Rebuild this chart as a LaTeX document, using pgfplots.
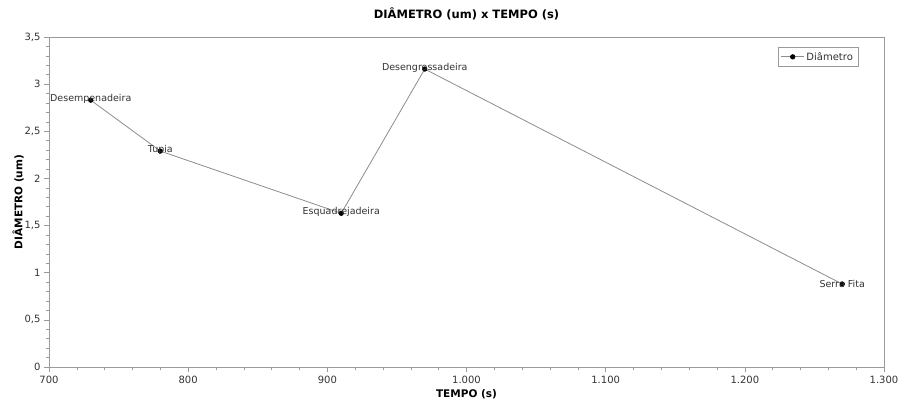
\documentclass[border=0pt]{standalone}
\usepackage{fontspec}
\setmainfont{DejaVu Sans}
\usepackage{pgfplots}
\pgfplotsset{compat=1.18}
\definecolor{framec}{HTML}{9A9A9A}
\definecolor{linec}{HTML}{8C8C8C}
\definecolor{txt}{HTML}{333333}
\begin{document}
\begin{tikzpicture}
\begin{axis}[
  scale only axis,
  width=835pt, height=330pt,
  xmin=700, xmax=1300, ymin=0, ymax=3.5,
  xtick={700,800,...,1300},
  ytick={0,0.5,...,3.5},
  minor x tick num=4, minor y tick num=4,
  axis line style={framec, line width=0.9pt},
  tick style={framec, line width=0.6pt},
  tick align=outside,
  xtick pos=bottom, ytick pos=left,
  major tick length=5pt, minor tick length=3pt,
  /pgf/number format/.cd, use comma, 1000 sep={.}, assume math mode=true,
  /pgfplots/.cd,
  tick label style={font=\fontsize{10}{11}\selectfont, text=txt},
  xticklabel style={yshift=-1pt},
  title={\textbf{DIÂMETRO (um) x TEMPO (s)}},
  title style={font=\fontsize{11.5}{13}\selectfont, yshift=7pt},
  xlabel={\textbf{TEMPO (s)}},
  xlabel style={font=\fontsize{10.5}{11}\selectfont, yshift=1pt},
  ylabel={\textbf{DIÂMETRO (um)}},
  ylabel style={font=\fontsize{10.5}{11}\selectfont, yshift=-6pt},
  legend style={at={(rel axis cs:0.969,0.97)}, anchor=north east, draw=framec, font=\fontsize{10}{11}\selectfont, text=txt, inner sep=3pt, legend image code/.code={\draw[mark repeat=2,mark phase=2,#1] plot coordinates {(0cm,0cm) (0.4cm,0cm) (0.8cm,0cm)};}},
  legend cell align=left,
  nodes near coords,
  point meta=explicit symbolic,
  every node near coord/.style={font=\fontsize{9.5}{10}\selectfont, text=txt, anchor=south, yshift=-7pt},
]
\addplot[color=linec, line width=0.8pt, mark=*, mark size=2.2pt, mark options={fill=black, draw=black}]
  table[meta=label, col sep=comma] {
x,y,label
730,2.83,Desempenadeira
780,2.29,Tupia
910,1.63,Esquadrejadeira
970,3.16,Desengrossadeira
1270,0.88,Serra Fita
};
\addlegendentry{Diâmetro}
\path (rel axis cs:0,0) coordinate (ll);
\path (rel axis cs:1,1) coordinate (ur);
\end{axis}
\pgfresetboundingbox
\path[use as bounding box] ([xshift=-49pt,yshift=-34pt]ll) rectangle ([xshift=14pt,yshift=37pt]ur);
\end{tikzpicture}
\end{document}
